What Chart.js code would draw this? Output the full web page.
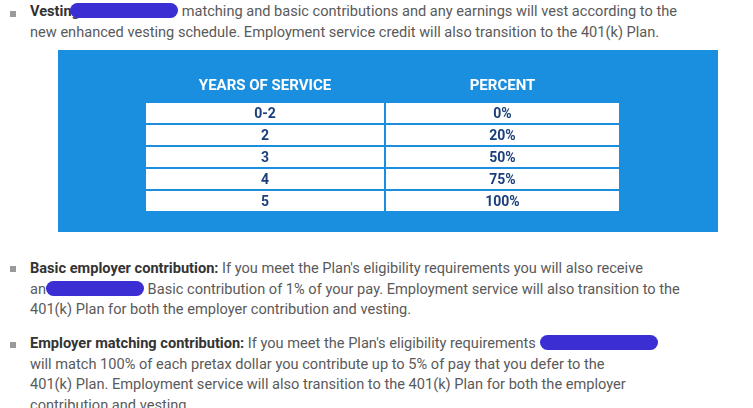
<!DOCTYPE html>
<html>
<head>
<meta charset="utf-8">
<script src="https://cdn.jsdelivr.net/npm/chart.js@4"></script>
<style>
  body { margin:0; width:753px; height:408px; background:#fff; font-family:Roboto, sans-serif; color:#5a5a5a; overflow:hidden; }
  .p { position:absolute; left:30px; font-size:14.6px; line-height:20.5px; width:725px; white-space:nowrap; }
  .b { position:absolute; left:10px; width:6px; height:6px; background:#9a9a9a; }
  strong { color:#333; }
  .red { display:inline-block; background:#3b2fd4; border-radius:10px; height:15px; vertical-align:-2px; }
  #box { position:absolute; left:58px; top:50px; width:660px; height:182px; }
</style>
</head>
<body>
<div class="b" style="top:11px"></div>
<div class="p" style="top:1px"><strong>Vesting:</strong><span class="red" style="width:108px;margin-left:-14px"></span> matching and basic contributions and any earnings will vest according to the<br>new enhanced vesting schedule. Employment service credit will also transition to the 401(k) Plan.</div>

<div id="box"><canvas id="canvas"></canvas></div>

<div class="b" style="top:266px"></div>
<div class="p" style="top:258px"><strong>Basic employer contribution:</strong> If you meet the Plan's eligibility requirements you will also receive<br>an<span class="red" style="width:98px"></span> Basic contribution of 1% of your pay. Employment service will also transition to the<br>401(k) Plan for both the employer contribution and vesting.</div>

<div class="b" style="top:342px"></div>
<div class="p" style="top:333px"><strong>Employer matching contribution:</strong> If you meet the Plan's eligibility requirements <span class="red" style="width:118px"></span><br>will match 100% of each pretax dollar you contribute up to 5% of pay that you defer to the<br>401(k) Plan. Employment service will also transition to the 401(k) Plan for both the employer<br>contribution and vesting.</div>

<script>
/* tabla de vesting */

const headers = ["YEARS OF SERVICE", "PERCENT"];
const years = ["0-2", "2", "3", "4", "5"];
const percents = [0, 20, 50, 75, 100];

const tablePlugin = {
    id: 'tabla',
    afterDraw: function(chart){
        const c = chart.ctx;
        const W = chart.width, H = chart.height;
        c.save();
        c.fillStyle = '#1a8fe0';
        c.fillRect(0, 0, W, H);
        const x0 = 87, x1 = 562, xm = 327;
        const hy = 20, hh = 32, rh = 22;
        c.textAlign = 'center';
        c.textBaseline = 'middle';
        c.fillStyle = '#fff';
        c.font = 'bold 15px Roboto, sans-serif';
        c.fillText(headers[0], (x0 + xm) / 2, hy + hh / 2);
        c.fillText(headers[1], (xm + x1) / 2, hy + hh / 2);
        for (let i = 0; i < years.length; i++) {
            const y = hy + hh + i * rh;
            c.fillStyle = '#fff';
            c.fillRect(x0, y, x1 - x0, rh);
            c.strokeStyle = '#1a8fe0';
            c.lineWidth = 2;
            c.strokeRect(x0, y, x1 - x0, rh);
            c.beginPath(); c.moveTo(xm, y); c.lineTo(xm, y + rh); c.stroke();
            c.fillStyle = '#1a3f7c';
            c.font = 'bold 14px Roboto, sans-serif';
            c.fillText(years[i], (x0 + xm) / 2, y + rh / 2 + 1);
            c.fillText(percents[i] + '%', (xm + x1) / 2, y + rh / 2 + 1);
        }
        c.restore();
    }
};

new Chart(document.getElementById('canvas'), {
    type: 'bar',
    data: { labels: years, datasets: [{ data: percents, backgroundColor: 'rgba(0,0,0,0)' }] },
    options: {
        responsive: true,
        maintainAspectRatio: false,
        animation: false,
        plugins: { legend: { display: false }, tooltip: { enabled: false } },
        scales: { x: { display: false }, y: { display: false } }
    },
    plugins: [tablePlugin]
});
</script>
</body>
</html>
